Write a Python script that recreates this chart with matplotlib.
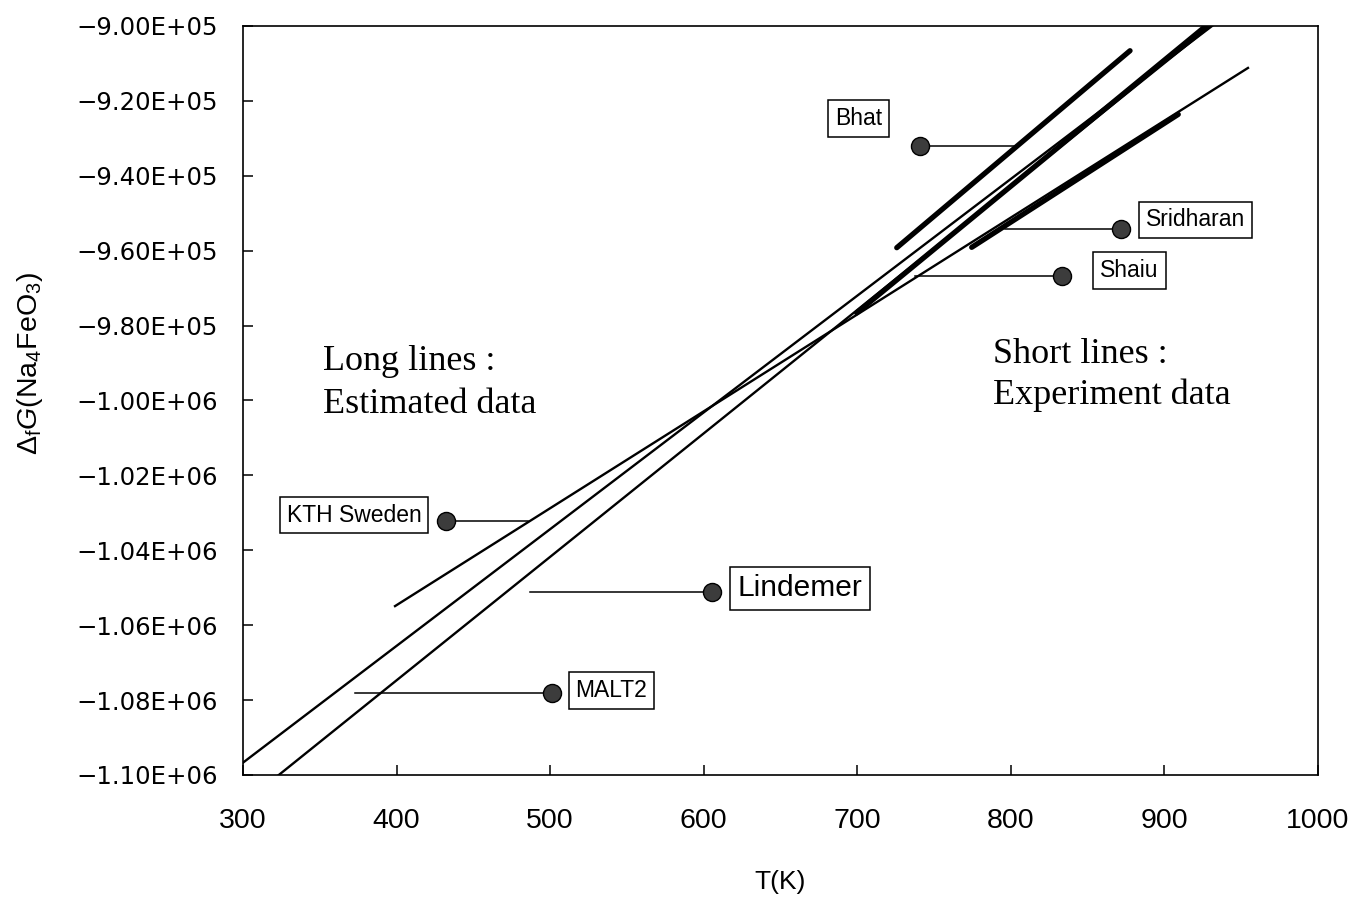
import matplotlib
matplotlib.use("Agg")
import matplotlib.pyplot as plt
from matplotlib.ticker import FixedLocator, FuncFormatter

plt.rcParams["font.family"] = "Liberation Sans"
plt.rcParams["mathtext.fontset"] = "custom"
plt.rcParams["mathtext.rm"] = "Liberation Sans"
plt.rcParams["mathtext.it"] = "Liberation Sans:italic"

# long lines (estimated data), end points
malt2_t = [300, 931]
malt2_g = [-1096700, -900000]
lindemer_t = [323.3, 930]
lindemer_g = [-1100000, -900000]
kth_t = [399, 954.4]
kth_g = [-1054900, -911200]

# short lines (experiment data)
bhat_t = [725.7, 877.6]
bhat_g = [-959200, -906600]
sridharan_t = [774.5, 909]
sridharan_g = [-959100, -923600]
shaiu_t = [699.6, 927]
shaiu_g = [-976600, -900000]

# callouts
label_names = ["Bhat", "Sridharan", "Shaiu", "KTH Sweden", "Lindemer", "MALT2"]
dot_t = [740.9, 871.5, 833.5, 432.2, 605.6, 501.0]
dot_g = [-932000, -954300, -966700, -1032100, -1051200, -1078200]
lead_t = [803, 796, 737.6, 485.8, 486.9, 372.9]
label_t = [700.8, 920.2, 877.2, 372.3, 662.7, 539.9]
label_g = [-924700, -951800, -965300, -1030600, -1050100, -1077400]

x_ticks = [300, 400, 500, 600, 700, 800, 900, 1000]
y_ticks = [-1100000 + 20000 * i for i in range(11)]

W, H = 1366, 916
fig = plt.figure(figsize=(W / 100, H / 100), dpi=100)
ax = fig.add_axes([243 / W, 1 - 775 / H, 1075 / W, 749 / H])

thin = 1.7
thick = 3.8
for t, g in [(malt2_t, malt2_g), (lindemer_t, lindemer_g), (kth_t, kth_g)]:
    ax.plot(t, g, color="black", lw=thin, zorder=2)
for t, g in [(bhat_t, bhat_g), (sridharan_t, sridharan_g), (shaiu_t, shaiu_g)]:
    ax.plot(t, g, color="black", lw=thick, solid_capstyle="round", zorder=3)

for i, name in enumerate(label_names):
    ax.plot([dot_t[i], lead_t[i]], [dot_g[i], dot_g[i]], color="black",
            lw=1.1, zorder=4)
    ax.plot(dot_t[i], dot_g[i], "o", ms=13, mfc="#3c3c3c", mec="black",
            mew=1.0, zorder=5)
    big = name == "Lindemer"
    ax.text(label_t[i], label_g[i], name, ha="center", va="center",
            fontsize=21.5 if big else 16.5, zorder=6,
            bbox=dict(boxstyle="square,pad=0.25" if big else "square,pad=0.3",
                      fc="white", ec="black", lw=1.1))

ax.set_xlim(300, 1000)
ax.set_ylim(-1100000, -900000)
ax.xaxis.set_major_locator(FixedLocator(x_ticks))
ax.yaxis.set_major_locator(FixedLocator(y_ticks))
ax.yaxis.set_major_formatter(
    FuncFormatter(lambda v, p: f"{v:.2E}".replace("-", "\u2212")))
ax.xaxis.set_major_formatter(FuncFormatter(lambda v, p: f"{v:.0f}"))
ax.tick_params(direction="in", length=7, width=1.1, top=False, right=False)
ax.tick_params(axis="x", pad=24)
ax.tick_params(axis="y", pad=18)
for lab in ax.get_xticklabels():
    lab.set_fontfamily("Liberation Sans")
    lab.set_fontsize(20.5)
for lab in ax.get_yticklabels():
    lab.set_fontfamily("DejaVu Sans")
    lab.set_fontsize(17.6)
for s in ax.spines.values():
    s.set_linewidth(1.2)

fig.text(30 / W, 1 - 363 / H, r"$\Delta_{\mathrm{f}}G$(Na$_4$FeO$_3$)",
         rotation=90, ha="center", va="center", fontsize=20.5)
fig.text(780 / W, 1 - 882 / H, "T(K)", ha="center", va="center", fontsize=19)

serif = dict(family="Liberation Serif", fontsize=26, va="baseline", ha="left")
fig.text(323 / W, 1 - 370 / H, "Long lines :", **serif)
fig.text(323 / W, 1 - 413 / H, "Estimated data", **serif)
fig.text(993 / W, 1 - 363 / H, "Short lines :", **serif)
fig.text(993 / W, 1 - 404 / H, "Experiment data", **serif)

fig.savefig("out.png", dpi=100)
